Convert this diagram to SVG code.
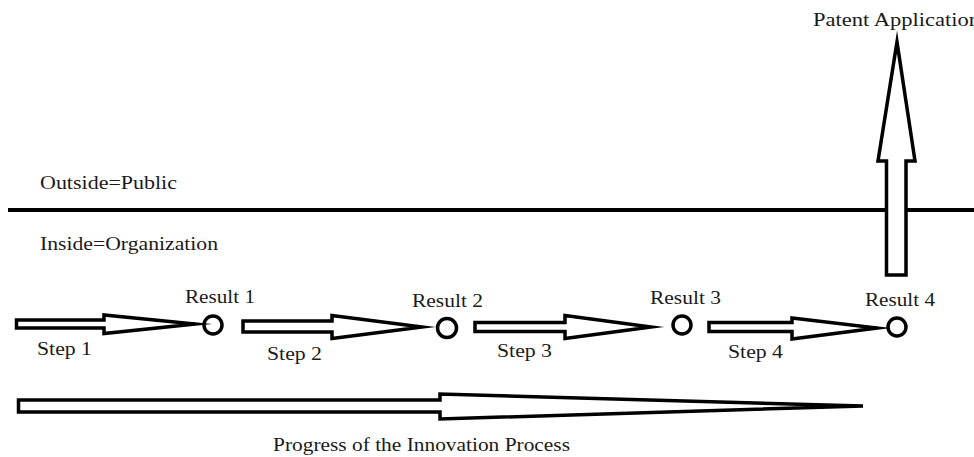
<svg xmlns="http://www.w3.org/2000/svg" width="974" height="457" viewBox="0 0 974 457">
  <style>
    .lbl { font-family: "Liberation Serif", "DejaVu Serif", serif; font-size: 19px; fill: #1a1a1a; }
    .arrow { fill: #ffffff; stroke: #000000; stroke-width: 3.5; stroke-linejoin: miter; stroke-miterlimit: 30; }
    .node { fill: #ffffff; stroke: #000000; stroke-width: 3.5; }
    .divider { stroke: #000000; stroke-width: 4; }
  </style>
  <rect width="974" height="457" fill="#ffffff"/>

  <!-- boundary between the public side and the organization -->
  <g id="boundary">
    <line class="divider" x1="8" y1="210" x2="974" y2="210"/>
    <text class="lbl" x="40" y="189" textLength="137" lengthAdjust="spacingAndGlyphs">Outside=Public</text>
    <text class="lbl" x="40" y="250" textLength="178" lengthAdjust="spacingAndGlyphs">Inside=Organization</text>
  </g>

  <!-- result milestones -->
  <g id="result1">
    <circle class="node" cx="213" cy="325" r="9"/>
    <text class="lbl" x="185" y="303" textLength="70" lengthAdjust="spacingAndGlyphs">Result 1</text>
  </g>
  <g id="result2">
    <circle class="node" cx="447" cy="328" r="9.5"/>
    <text class="lbl" x="412" y="307" textLength="71" lengthAdjust="spacingAndGlyphs">Result 2</text>
  </g>
  <g id="result3">
    <circle class="node" cx="682" cy="325" r="9"/>
    <text class="lbl" x="650" y="304" textLength="71" lengthAdjust="spacingAndGlyphs">Result 3</text>
  </g>
  <g id="result4">
    <circle class="node" cx="897" cy="327" r="9"/>
    <text class="lbl" x="865" y="306" textLength="70" lengthAdjust="spacingAndGlyphs">Result 4</text>
  </g>

  <!-- steps, overall progress and patent filing -->
  <g id="connectors">
    <g id="step1">
      <polygon class="arrow" points="16.5,320 104,320 104,315 195,324 104,333.5 104,328 16.5,328"/>
      <text class="lbl" x="37" y="355" textLength="55" lengthAdjust="spacingAndGlyphs">Step 1</text>
    </g>
    <g id="step2">
      <polygon class="arrow" points="243,321 332,321 332,315.5 422,327 332,338.5 332,332 243,332"/>
      <text class="lbl" x="267" y="360" textLength="55" lengthAdjust="spacingAndGlyphs">Step 2</text>
    </g>
    <g id="step3">
      <polygon class="arrow" points="475,322.5 565,322.5 565,315.5 651,327 565,338.5 565,331.5 475,331.5"/>
      <text class="lbl" x="497" y="357" textLength="55" lengthAdjust="spacingAndGlyphs">Step 3</text>
    </g>
    <g id="step4">
      <polygon class="arrow" points="709,322.5 792,322.5 792,318 877,328 792,339 792,331.5 709,331.5"/>
      <text class="lbl" x="728" y="358" textLength="55" lengthAdjust="spacingAndGlyphs">Step 4</text>
    </g>
    <g id="progress">
      <polygon class="arrow" points="18.5,400 440,400 440,394 863,406 440,419 440,412 18.5,412"/>
      <text class="lbl" x="273" y="451" textLength="297" lengthAdjust="spacingAndGlyphs">Progress of the Innovation Process</text>
    </g>
    <g id="patent">
      <polygon class="arrow" points="886.5,275 886.5,161 878,161 897,42 915,161 906,161 906,275"/>
      <text class="lbl" x="813" y="26" textLength="167" lengthAdjust="spacingAndGlyphs">Patent Application</text>
    </g>
  </g>
</svg>
